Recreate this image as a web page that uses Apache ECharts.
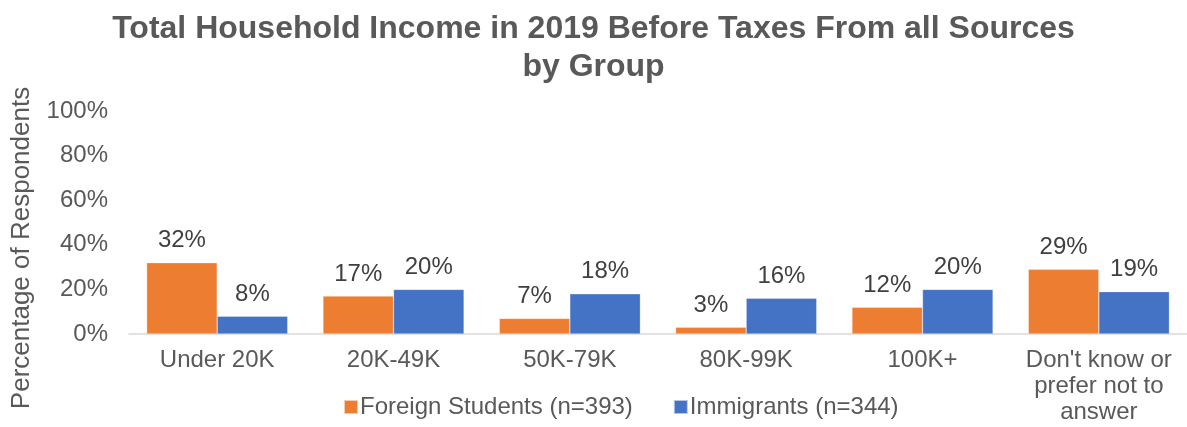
<!DOCTYPE html>
<html>
<head>
<meta charset="utf-8">
<script src="https://cdn.jsdelivr.net/npm/echarts@6/dist/echarts.min.js"></script>
<style>
  html, body { margin: 0; padding: 0; background: #fff; }
  #chart { width: 1187px; height: 427px; }
</style>
</head>
<body>
<div id="chart"></div>
<script>
// Income brackets and share of respondents (%) per group
const categories = ['Under 20K', '20K-49K', '50K-79K', '80K-99K', '100K+', "Don't know or\nprefer not to\nanswer"];
const foreignStudents = [32, 17, 7, 3, 12, 29];
const immigrants = [8, 20, 18, 16, 20, 19];
const yTicks = [0, 20, 40, 60, 80, 100];

const textColor = '#595959';
const font = 'Liberation Sans, Arial, sans-serif';

const chart = echarts.init(document.getElementById('chart'));

const labelStyle = {
  show: true,
  position: 'top',
  distance: 10,
  formatter: p => p.value + '%',
  color: '#404040',
  fontSize: 24,
  fontFamily: font
};

chart.setOption({
  animation: false,
  textStyle: { fontFamily: font },
  title: {
    text: 'Total Household Income in 2019 Before Taxes From all Sources\nby Group',
    left: 'center',
    top: 5,
    textStyle: {
      color: textColor,
      fontSize: 32,
      fontWeight: 'bold',
      lineHeight: 38,
      fontFamily: font
    }
  },
  legend: {
    bottom: 3,
    left: 338,
    itemWidth: 14,
    itemHeight: 14,
    itemGap: 40,
    icon: 'rect',
    textStyle: { color: textColor, fontSize: 24, fontFamily: font, padding: [0, 0, 0, -3] },
    data: ['Foreign Students (n=393)', 'Immigrants (n=344)']
  },
  grid: {
    left: 129,
    top: 111,
    width: 1066,
    height: 223,
    containLabel: false
  },
  xAxis: {
    type: 'category',
    data: categories,
    axisLine: { show: true, lineStyle: { color: '#D9D9D9', width: 1.5 } },
    axisTick: { show: false },
    axisLabel: {
      color: textColor,
      fontSize: 24,
      lineHeight: 26,
      margin: 13,
      interval: 0,
      fontFamily: font
    }
  },
  yAxis: {
    type: 'value',
    min: 0,
    max: 100,
    interval: 20,
    splitLine: { show: false },
    axisLine: { show: false },
    axisTick: { show: false },
    axisLabel: {
      color: textColor,
      fontSize: 24,
      margin: 21,
      fontFamily: font,
      formatter: v => (yTicks.includes(v) ? v + '%' : '')
    }
  },
  graphic: [{
    type: 'text',
    x: 22,
    y: 248,
    rotation: Math.PI / 2,
    style: {
      text: 'Percentage of Respondents',
      fill: textColor,
      font: '26px ' + font,
      textAlign: 'center',
      textVerticalAlign: 'middle'
    }
  }],
  series: [
    {
      name: 'Foreign Students (n=393)',
      type: 'bar',
      data: foreignStudents,
      barGap: '0%',
      barCategoryGap: '20%',
      itemStyle: { color: '#ED7D31', borderColor: 'rgba(255,255,255,0.6)', borderWidth: 0.5 },
      label: labelStyle
    },
    {
      name: 'Immigrants (n=344)',
      type: 'bar',
      data: immigrants,
      itemStyle: { color: '#4472C4', borderColor: 'rgba(255,255,255,0.6)', borderWidth: 0.5 },
      label: labelStyle
    }
  ]
});
</script>
</body>
</html>
